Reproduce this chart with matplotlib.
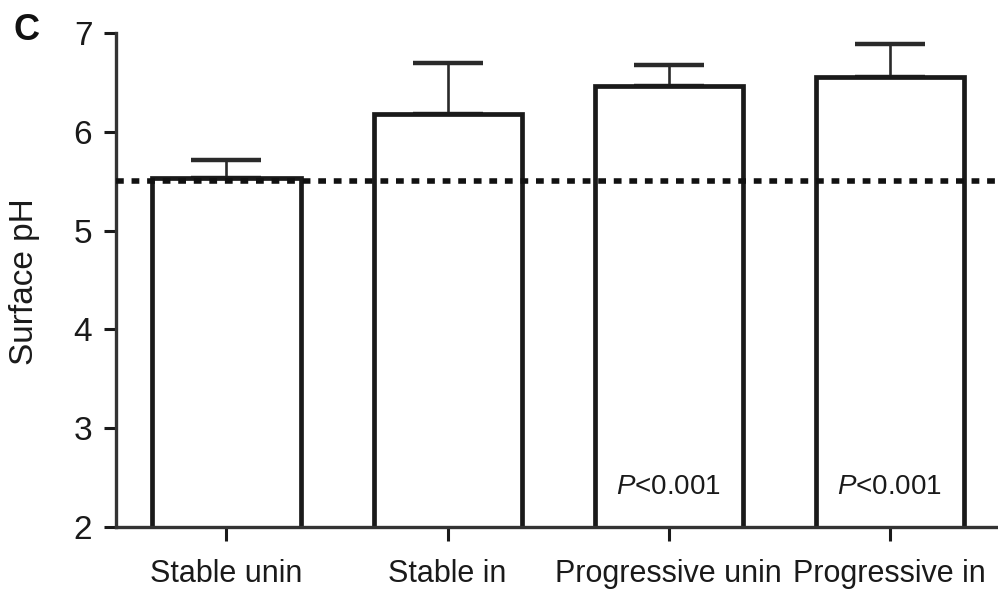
import matplotlib
matplotlib.use("Agg")
import matplotlib.pyplot as plt
import numpy as np

# --------------------  Data ----------------------- #
groups = ["Stable unin", "Stable in", "Progressive unin", "Progressive in"]
means = [5.53, 6.18, 6.46, 6.55]
err_up = [0.18, 0.52, 0.22, 0.34]
p_labels = ["", "", "P<0.001", "P<0.001"]
ref_ph = 5.5

# --------------------  Style ----------------------- #
plt.rcParams['font.family'] = ['Liberation Sans', 'DejaVu Sans']
plt.rcParams['mathtext.fontset'] = 'custom'
plt.rcParams['mathtext.it'] = 'Liberation Sans:italic'
plt.rcParams['mathtext.rm'] = 'Liberation Sans'

# -----------------------  Plot -------------------------- #
fig = plt.figure(figsize=(9.98, 5.96), dpi=100)
ax = fig.add_axes([0.1162, 0.1158, 0.8838, 0.8288])

x = np.arange(len(groups))
ax.bar(x, means, width=0.67, bottom=0, color='white', edgecolor='#1a1a1a',
       linewidth=3.4, zorder=2)
ax.errorbar(x, means, yerr=[np.zeros(len(err_up)), err_up], fmt='none',
            ecolor='#2a2a2a', elinewidth=1.9, capsize=25, capthick=3.2, zorder=1)
ax.axhline(ref_ph, color='#111111', lw=4.0, ls=(0, (1.4, 1.4)), zorder=3)

for xi, lab in zip(x, p_labels):
    if lab:
        ax.text(xi, 2.4, r'$P$' + lab[1:], ha='center', va='center', fontsize=20,
                color='#1a1a1a')

ax.set_xlim(-0.5, 3.49)
ax.set_ylim(2, 7)
ax.set_yticks([2, 3, 4, 5, 6, 7])
ax.set_xticks(x)
ax.set_xticklabels(groups, fontsize=22)
ax.tick_params(axis='y', labelsize=24, length=9, width=2.2, pad=8, colors='#1a1a1a')
ax.tick_params(axis='x', length=10, width=2.2, pad=13, colors='#1a1a1a')
ax.spines['top'].set_visible(False)
ax.spines['right'].set_visible(False)
for s in ['left', 'bottom']:
    ax.spines[s].set_linewidth(2.4)
    ax.spines[s].set_color('#333333')

fig.text(0.025, 0.527, 'Surface pH', rotation=90, ha='center', va='center',
         fontsize=24, color='#1a1a1a')
fig.text(0.027, 0.948, 'C', ha='center', va='center', fontsize=26,
         fontweight='bold', color='#111111')

fig.savefig('out.png', dpi=100)
